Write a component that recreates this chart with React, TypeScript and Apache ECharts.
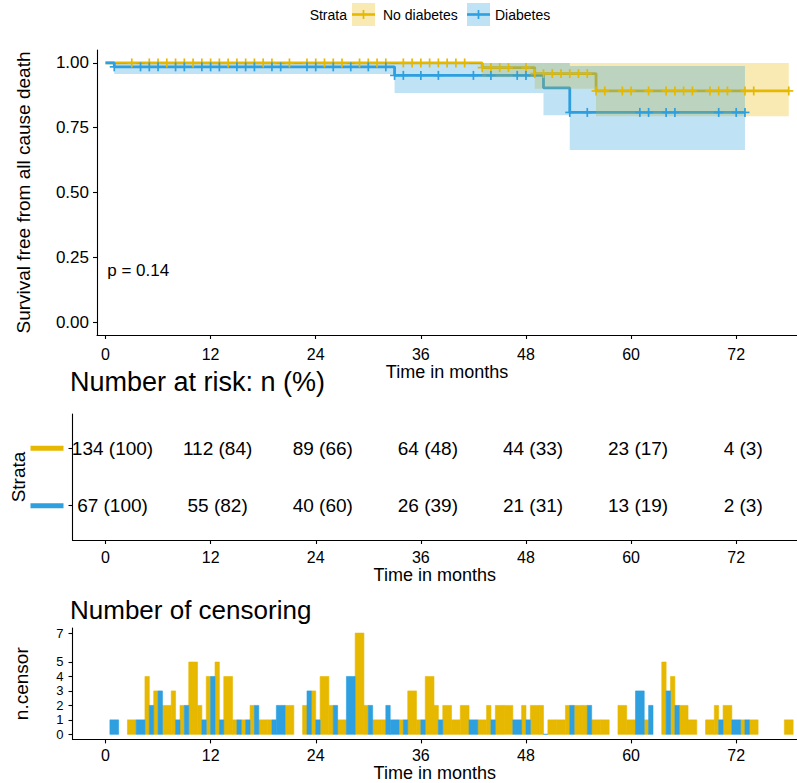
import React, { useEffect, useRef } from "react";
import * as echarts from "echarts";

// ---------- data ----------
const strataNames = ["No diabetes", "Diabetes"];
const lineColors = ["#E7B800", "#2E9FDF"];
const bandColors = ["rgba(231,184,0,0.3)", "rgba(46,159,223,0.3)"];

// Kaplan-Meier steps (time in months)
const noDiabTime = [0, 43, 49, 56, 78];
const noDiabSurv = [1, 0.982, 0.959, 0.892, 0.892];
const noDiabLower = [1, 0.945, 0.9, 0.794, 0.794];
const noDiabUpper = [1, 1, 1, 1, 1];

const diabTime = [0, 1, 33, 50, 53, 73];
const diabSurv = [1, 0.985, 0.952, 0.904, 0.809, 0.809];
const diabLower = [1, 0.957, 0.884, 0.798, 0.664, 0.664];
const diabUpper = [1, 1, 1, 1, 0.988, 0.988];

// number of censored subjects per month
const noDiabCensorTime = [3, 5, 6, 7, 8, 9, 10, 11, 12, 13, 14, 15, 16, 17, 18, 19, 21, 23, 24, 25, 26, 27, 29, 30, 31, 32, 34, 35, 36, 37, 38, 39, 40, 41, 43, 44, 45, 46, 48, 49, 50, 51, 52, 53, 54, 55, 56, 57, 59, 60, 62, 64, 65, 66, 67, 69, 70, 71, 73, 74, 78];
const noDiabCensorN = [1, 4, 3, 2, 3, 2, 5, 2, 4, 5, 4, 1, 1, 2, 1, 1, 2, 2, 3, 4, 2, 1, 7, 2, 1, 1, 1, 3, 1, 4, 2, 2, 1, 2, 1, 2, 2, 2, 2, 2, 2, 1, 1, 2, 2, 2, 1, 1, 2, 1, 1, 5, 4, 2, 1, 1, 2, 2, 1, 1, 1];
const diabCensorTime = [1, 4, 5, 6, 8, 9, 11, 12, 13, 15, 16, 17, 19, 20, 23, 24, 26, 28, 30, 32, 33, 34, 36, 38, 42, 44, 47, 48, 50, 53, 55, 61, 62, 64, 65, 70, 72, 73];
const diabCensorN = [1, 1, 2, 3, 1, 2, 1, 4, 1, 1, 1, 2, 1, 2, 3, 1, 2, 4, 2, 2, 1, 1, 1, 1, 1, 1, 1, 1, 0, 2, 2, 3, 2, 3, 2, 1, 1, 1];

// number at risk table
const riskTimes = [0, 12, 24, 36, 48, 60, 72];
const noDiabRisk = ["134 (100)", "112 (84)", "89 (66)", "64 (48)", "44 (33)", "23 (17)", "4 (3)"];
const diabRisk = ["67 (100)", "55 (82)", "40 (60)", "26 (39)", "21 (31)", "13 (19)", "2 (3)"];

// ticks and labels
const xTicks = [0, 12, 24, 36, 48, 60, 72];
const survTicks = [0, 0.25, 0.5, 0.75, 1];
const censorTicks = [0, 1, 2, 3, 4, 5, 7];
const pValueText = "p = 0.14";
const pValueAt = [0.2, 0.2];

// ---------- layout constants ----------
const FONT = "Liberation Sans, Arial, sans-serif";
const X_MAX = 78.94;
const X_MIN_MAIN = -0.97;
const X_MIN_LOW = -3.77;

function stepValue(times: number[], vals: number[], t: number) {
  let v = vals[0];
  for (let i = 0; i < times.length; i++) if (times[i] <= t) v = vals[i];
  return v;
}

function bandData(times: number[], lo: number[], hi: number[]) {
  const out: number[][] = [];
  for (let i = 0; i < times.length - 1; i++) {
    if (hi[i] > lo[i]) out.push([times[i], times[i + 1], lo[i], hi[i]]);
  }
  return out;
}

function makeXAxis(gridIndex: number, min: number, labelMargin: number, nameGap: number) {
  return {
    type: "value",
    gridIndex,
    min,
    max: X_MAX,
    axisLine: { show: true, onZero: false, lineStyle: { color: "#000", width: 1.1 } },
    axisTick: { show: true, customValues: xTicks, length: 4, lineStyle: { color: "#000", width: 1.1 } },
    axisLabel: { customValues: xTicks, fontSize: 16, lineHeight: 16, color: "#000", margin: labelMargin, fontFamily: FONT },
    splitLine: { show: false },
    name: "Time in months",
    nameLocation: "middle",
    nameGap,
    nameMoveOverlap: false,
    nameTextStyle: { fontSize: 18, lineHeight: 18, color: "#000", fontFamily: FONT },
  };
}

export default function App() {
  const ref = useRef<HTMLDivElement>(null);

  useEffect(() => {
    if (!ref.current) return;
    const chart = echarts.init(ref.current, null, { renderer: "svg" });

    const curves = [
      { t: noDiabTime, s: noDiabSurv, lo: noDiabLower, hi: noDiabUpper, ct: noDiabCensorTime, cn: noDiabCensorN },
      { t: diabTime, s: diabSurv, lo: diabLower, hi: diabUpper, ct: diabCensorTime, cn: diabCensorN },
    ];

    const series: any[] = [];
    // survival lines
    curves.forEach((c, k) => {
      series.push({
        type: "line",
        name: strataNames[k],
        xAxisIndex: 0,
        yAxisIndex: 0,
        step: "end",
        showSymbol: false,
        symbol: "none",
        data: c.t.map((t, i) => [t, c.s[i]]),
        lineStyle: { color: lineColors[k], width: 2.8 },
        z: 2,
      });
    });
    // confidence bands
    curves.forEach((c, k) => {
      series.push({
        type: "custom",
        xAxisIndex: 0,
        yAxisIndex: 0,
        data: bandData(c.t, c.lo, c.hi),
        encode: { x: [0, 1], y: [2, 3] },
        z: 3,
        renderItem: (params: any, api: any) => {
          const p0 = api.coord([api.value(0), api.value(3)]);
          const p1 = api.coord([api.value(1), api.value(2)]);
          return {
            type: "rect",
            shape: { x: p0[0], y: p0[1], width: p1[0] - p0[0], height: p1[1] - p0[1] },
            style: { fill: bandColors[k] },
          };
        },
      });
    });
    // censor marks (+)
    curves.forEach((c, k) => {
      const pts = c.ct.filter((_, i) => c.cn[i] > 0).map((t) => [t, stepValue(c.t, c.s, t)]);
      series.push({
        type: "custom",
        xAxisIndex: 0,
        yAxisIndex: 0,
        data: pts,
        encode: { x: 0, y: 1 },
        z: 4,
        renderItem: (params: any, api: any) => {
          const p = api.coord([api.value(0), api.value(1)]);
          const h = 4.5;
          const st = { stroke: lineColors[k], lineWidth: 1.7 };
          return {
            type: "group",
            children: [
              { type: "line", shape: { x1: p[0] - h, y1: p[1], x2: p[0] + h, y2: p[1] }, style: st },
              { type: "line", shape: { x1: p[0], y1: p[1] - h, x2: p[0], y2: p[1] + h }, style: st },
            ],
          };
        },
      });
    });
    // p value
    series.push({
      type: "custom",
      xAxisIndex: 0,
      yAxisIndex: 0,
      data: [pValueAt],
      z: 5,
      renderItem: (params: any, api: any) => {
        const p = api.coord([api.value(0), api.value(1)]);
        return {
          type: "text",
          x: p[0],
          y: p[1],
          style: { text: pValueText, fontSize: 17, fontFamily: FONT, fill: "#000", align: "left", verticalAlign: "middle" },
        };
      },
    });
    // risk table
    [noDiabRisk, diabRisk].forEach((labels, k) => {
      const row = k === 0 ? 2 : 1;
      series.push({
        type: "custom",
        xAxisIndex: 1,
        yAxisIndex: 1,
        data: riskTimes.map((t) => [t, row]),
        renderItem: (params: any, api: any) => {
          const p = api.coord([api.value(0), api.value(1)]);
          return {
            type: "text",
            x: p[0] + 7,
            y: p[1],
            style: { text: labels[params.dataIndex], fontSize: 19, fontFamily: FONT, fill: "#000", align: "center", verticalAlign: "middle" },
          };
        },
      });
    });
    // censoring bars (dodged when both strata censor in the same month)
    const shared = new Set(noDiabCensorTime.filter((t) => diabCensorTime.includes(t)));
    curves.forEach((c, k) => {
      series.push({
        type: "custom",
        xAxisIndex: 2,
        yAxisIndex: 2,
        data: c.ct.map((t, i) => [t, c.cn[i], shared.has(t) ? k + 1 : 0]),
        encode: { x: 0, y: 1 },
        z: 2 + k,
        renderItem: (params: any, api: any) => {
          const t = api.value(0);
          const n = api.value(1);
          const mode = api.value(2);
          const x0 = mode === 2 ? t : t - 0.5;
          const x1 = mode === 1 ? t : t + 0.5;
          const p0 = api.coord([x0, n]);
          const p1 = api.coord([x1, 0]);
          return {
            type: "rect",
            shape: { x: p0[0], y: p0[1], width: p1[0] - p0[0], height: p1[1] - p0[1] },
            style: { fill: lineColors[k], stroke: lineColors[k], lineWidth: 0.6 },
          };
        },
      });
    });

    // legend drawn as graphic
    const keyY = 3;
    const keySize = 23;
    const legendKey = (x: number, k: number) => ({
      type: "group",
      children: [
        { type: "rect", shape: { x, y: keyY, width: keySize, height: keySize }, style: { fill: bandColors[k] } },
        { type: "line", shape: { x1: x, y1: keyY + keySize / 2, x2: x + keySize, y2: keyY + keySize / 2 }, style: { stroke: lineColors[k], lineWidth: 2.6 } },
        { type: "line", shape: { x1: x + keySize / 2, y1: keyY + keySize / 2 - 4.5, x2: x + keySize / 2, y2: keyY + keySize / 2 + 4.5 }, style: { stroke: lineColors[k], lineWidth: 1.7 } },
      ],
    });
    const legendText = (x: number, text: string, align: string) => ({
      type: "text",
      x,
      y: keyY + keySize / 2,
      style: { text, fontSize: 14, fontFamily: FONT, fill: "#000", align, verticalAlign: "middle" },
    });

    const yAxisBase = {
      type: "value",
      axisLine: { show: true, onZero: false, lineStyle: { color: "#000", width: 1.1 } },
      splitLine: { show: false },
      nameLocation: "middle",
      nameRotate: 90,
      nameMoveOverlap: false,
      nameTextStyle: { fontSize: 19, color: "#000", fontFamily: FONT },
    };

    const option: any = {
      animation: false,
      textStyle: { fontFamily: FONT },
      title: [
        { text: "Number at risk: n (%)", left: 70, top: 368, padding: 0, textStyle: { fontSize: 27, fontWeight: "normal", color: "#000", fontFamily: FONT } },
        { text: "Number of censoring", left: 70, top: 597, padding: 0, textStyle: { fontSize: 26, fontWeight: "normal", color: "#000", fontFamily: FONT } },
      ],
      grid: [
        { left: 97, right: 0, top: 50, height: 285, outerBoundsMode: "none", containLabel: false },
        { left: 72.5, right: 0, top: 414, height: 126, outerBoundsMode: "none", containLabel: false },
        { left: 72.5, right: 0, top: 628, height: 111.4, outerBoundsMode: "none", containLabel: false },
      ],
      xAxis: [makeXAxis(0, X_MIN_MAIN, 11, 28), makeXAxis(1, X_MIN_LOW, 9, 26), makeXAxis(2, X_MIN_LOW, 8, 25)],
      yAxis: [
        {
          ...yAxisBase,
          gridIndex: 0,
          min: -0.05,
          max: 1.05,
          axisTick: { show: true, customValues: survTicks, length: 4, lineStyle: { color: "#000", width: 1.1 } },
          axisLabel: { customValues: survTicks, formatter: (v: number) => v.toFixed(2), fontSize: 17, color: "#000", margin: 8, fontFamily: FONT },
          name: "Survival free from all cause death",
          nameGap: 64,
        },
        {
          ...yAxisBase,
          gridIndex: 1,
          min: 0.4,
          max: 2.6,
          axisTick: { show: true, customValues: [1, 2], length: 4, lineStyle: { color: "#000", width: 1.1 } },
          axisLabel: {
            customValues: [1, 2],
            margin: 9,
            formatter: (v: number) => (v === 2 ? "{a| }" : "{b| }"),
            rich: {
              a: { width: 33, height: 5, lineHeight: 5, fontSize: 1, backgroundColor: lineColors[0] },
              b: { width: 33, height: 5, lineHeight: 5, fontSize: 1, backgroundColor: lineColors[1] },
            },
          },
          name: "Strata",
          nameGap: 45,
        },
        {
          ...yAxisBase,
          gridIndex: 2,
          min: -0.35,
          max: 7.35,
          axisTick: { show: true, customValues: censorTicks, length: 4, lineStyle: { color: "#000", width: 1.1 } },
          axisLabel: { customValues: censorTicks, interval: 0, fontSize: 13, lineHeight: 13, color: "#000", margin: 9, fontFamily: FONT, showMinLabel: true, showMaxLabel: true, hideOverlap: false },
          name: "n.censor",
          nameGap: 42,
        },
      ],
      graphic: [
        legendText(347, "Strata", "right"),
        legendKey(352, 0),
        legendText(383, strataNames[0], "left"),
        legendKey(467, 1),
        legendText(495, strataNames[1], "left"),
      ],
      series,
    };

    chart.setOption(option);
    return () => chart.dispose();
  }, []);

  return <div ref={ref} style={{ position: "absolute", left: 0, top: 0, width: 797, height: 783 }} />;
}
